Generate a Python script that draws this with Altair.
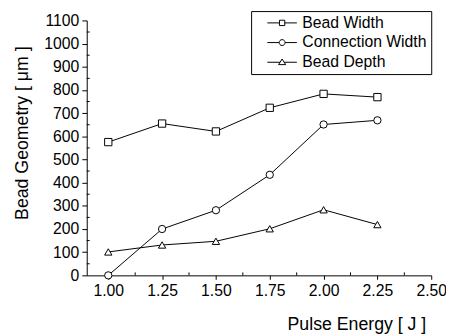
import altair as alt
import pandas as pd

# ---- data ----
energy = [1.00, 1.25, 1.50, 1.75, 2.00, 2.25]
bead_width = [575, 655, 621, 723, 783, 769]
connection_width = [0, 200, 281, 434, 651, 669]
bead_depth = [101, 131, 147, 201, 283, 219]
series_names = ["Bead Width", "Connection Width", "Bead Depth"]

x_ticks = [1.00, 1.25, 1.50, 1.75, 2.00, 2.25, 2.50]
x_minor = [1.125, 1.375, 1.625, 1.875, 2.125, 2.375]
y_ticks = [0, 100, 200, 300, 400, 500, 600, 700, 800, 900, 1000, 1100]
y_minor = [50, 150, 250, 350, 450, 550, 650, 750, 850, 950, 1050]

# ---- table ----
rows = []
for name, vals in zip(series_names, [bead_width, connection_width, bead_depth]):
    for e, v in zip(energy, vals):
        rows.append({"energy": e, "value": v, "series": name})
df = pd.DataFrame(rows)

W, H = 350, 259
FONT = "Liberation Sans"

x_axis = alt.Axis(
    values=x_ticks, format=".2f", title="Pulse Energy [ J ]",
    tickSize=4, labelPadding=3, labelFlush=False, labelOverlap=False,
    titleX=274, titleY=55, titleAlign="center", titleBaseline="alphabetic",
    titleAnchor="start",
)
y_axis = alt.Axis(
    values=y_ticks, format="d", title="Bead Geometry [ μm ]",
    tickSize=5, labelPadding=3, labelOverlap=False,
    titleAngle=270, titleX=-65, titleY=114, titleAlign="center",
    titleBaseline="middle", titleAnchor="start",
)
x_scale = alt.Scale(domain=[0.9, 2.5], nice=False, zero=False)
y_scale = alt.Scale(domain=[0, 1100], nice=False, zero=False)


def xe():
    return alt.X("energy:Q", scale=x_scale, axis=x_axis)


def ye():
    return alt.Y("value:Q", scale=y_scale, axis=y_axis)


base = alt.Chart(df).encode(x=xe(), y=ye())

lines = base.mark_line(color="black", strokeWidth=1).encode(detail="series:N")

points = base.mark_point(
    filled=True, fill="white", stroke="black", strokeWidth=1, size=55, opacity=1
).encode(
    shape=alt.Shape(
        "series:N",
        scale=alt.Scale(domain=series_names, range=["square", "circle", "triangle-up"]),
        legend=None,
    )
)

legend_paths = [
    "M1.5,0H5.6M5.6,-0.9H7.4V0.9H5.6ZM7.4,0H11.5",
    "M1.5,0H5.5M5.5,0A1,1,0,1,0,7.5,0A1,1,0,1,0,5.5,0ZM7.5,0H11.5",
    "M1.5,0H5.8M6.5,-1.1L7.7,0.8H5.3ZM7.2,0H11.5",
]

legend_layer = base.transform_filter("false").mark_point(
    filled=False, color="black", strokeWidth=1, size=36, opacity=1
).encode(
    shape=alt.Shape(
        "series:N",
        scale=alt.Scale(domain=series_names, range=legend_paths),
        legend=alt.Legend(
            title=None, orient="none", legendX=167, legendY=-9.5,
            padding=4, rowPadding=4, labelOffset=32,
            strokeColor="black", fillColor="white",
            labelFont=FONT, labelFontSize=16, labelColor="black",
            symbolSize=36, symbolStrokeWidth=1,
            symbolStrokeColor="black", symbolOpacity=1,
        ),
    )
)

minor_y = alt.Chart(pd.DataFrame({"value": y_minor})).mark_rule(
    color="black", strokeWidth=1
).encode(y=ye(), x=alt.value(0), x2=alt.value(3))

minor_x = alt.Chart(pd.DataFrame({"energy": x_minor})).mark_rule(
    color="black", strokeWidth=1
).encode(x=xe(), y=alt.value(H), y2=alt.value(H - 3))

chart = alt.layer(lines, points, legend_layer, minor_y, minor_x).resolve_scale(
    shape="independent"
).resolve_legend(shape="independent").properties(
    width=W, height=H,
    padding={"left": 80, "top": 10, "right": 15, "bottom": 60},
    autosize=alt.AutoSizeParams(type="none"),
).configure(
    font=FONT,
).configure_view(
    stroke=None,
).configure_axis(
    grid=False, domainColor="black", tickColor="black", labelColor="black",
    titleColor="black", labelFont=FONT, titleFont=FONT, labelFontSize=16,
    titleFontSize=18, titleFontWeight="normal", domainWidth=1, tickWidth=1,
)

chart.save("out.html", embed_options={"renderer": "svg", "actions": False})
